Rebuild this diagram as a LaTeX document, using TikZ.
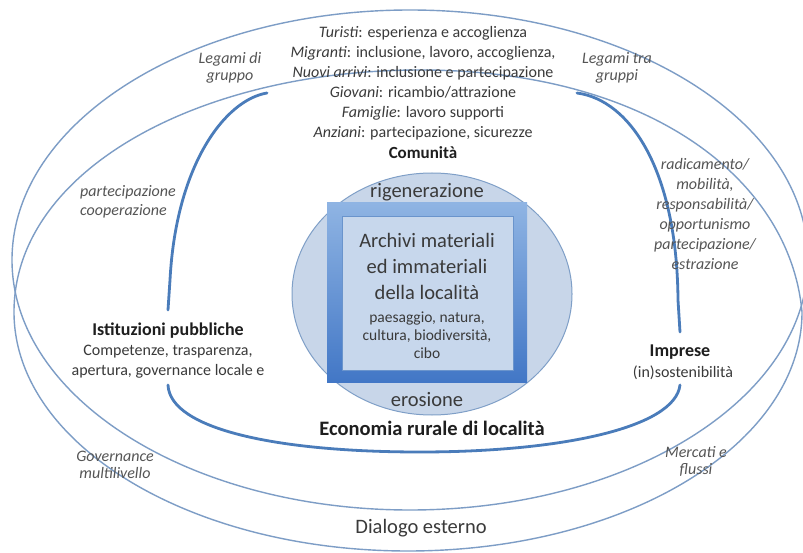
\documentclass[tikz,border=0pt]{standalone}
\usepackage{fontspec}
\setmainfont{Carlito}
\definecolor{ringc}{HTML}{7D9DC6}
\definecolor{arcc}{HTML}{4A7CBA}
\definecolor{ellfill}{HTML}{C8D6E9}
\definecolor{elldraw}{HTML}{7F9FC7}
\definecolor{frametop}{HTML}{8FB4E3}
\definecolor{framebot}{HTML}{4277C6}
\definecolor{panelfill}{HTML}{C7D7EC}
\definecolor{paneldraw}{HTML}{6A94CC}
\definecolor{txtc}{HTML}{3A3A3A}
\definecolor{labc}{HTML}{555555}
\definecolor{headc}{HTML}{1E1E1E}
\begin{document}
\begin{tikzpicture}[x=1pt,y=-1pt,
  thinring/.style={draw=ringc, line width=1.4pt},
  thickarc/.style={draw=arcc, line width=2.8pt, line cap=round},
  sidelab/.style={inner sep=0pt, align=center, text=labc, font=\fontsize{16}{17}\selectfont\itshape},
  bodytxt/.style={inner sep=0pt, align=center, text=txtc, font=\fontsize{16}{20}\selectfont},
  headtxt/.style={inner sep=0pt, align=center, text=headc, font=\fontsize{18}{20}\selectfont\bfseries},
  bigtxt/.style={inner sep=0pt, align=center, text=txtc, font=\fontsize{20.5}{25}\selectfont}]
\fill[white] (0,0) rectangle (803,553);
\useasboundingbox (0,0) rectangle (803,553);

% outer rings
\draw[thinring] (410,260) ellipse [x radius=398, y radius=250];
\draw[thinring] (420,70) .. controls (650,70) and (790,180) .. (802,312)
  .. controls (802,444) and (626,551) .. (408,551)
  .. controls (190,551) and (14,444) .. (14,312)
  .. controls (14,170) and (200,70) .. (420,70) -- cycle;

% inner thick arcs (connections)
\coordinate (tl) at (267,93);
\coordinate (tr) at (577,93);
\coordinate (istTop) at (168,310);
\coordinate (istBot) at (168,385);
\coordinate (impTop) at (680,332);
\coordinate (impBot) at (680,385);
\draw[thickarc] (tl) .. controls (225,100) and (176,165) .. (170,280) -- (istTop);
\draw[thickarc] (istBot) .. controls (170,430) and (280,452) .. (420,452)
  .. controls (560,452) and (675,428) .. (impBot);
\draw[thickarc] (tr) .. controls (630,100) and (677,170) .. (678,300) -- (impTop);

% core
\draw[fill=ellfill, draw=elldraw, line width=1pt] (432,294) ellipse [x radius=140, y radius=121];
\shade[top color=frametop, bottom color=framebot] (327,203) rectangle (527,382);
\draw[fill=panelfill, draw=paneldraw, line width=1pt] (342,217) rectangle (513,370);

\node[bigtxt] (rig) at (427,192) {rigenerazione};
\node[bigtxt] (ero) at (427,400) {erosione};
\node[inner sep=0pt, align=center, text=txtc, font=\fontsize{20.5}{26}\selectfont] (arch) at (427,266)
  {Archivi materiali\\ed immateriali\\della località};
\node[inner sep=0pt, align=center, text=txtc, font=\fontsize{15.5}{18}\selectfont] (archsub) at (427,335)
  {paesaggio, natura,\\cultura, biodiversità,\\cibo};

% community
\node[bodytxt] (comm) at (423,83) {\textit{Turisti}: esperienza e accoglienza\\
  \textit{Migranti}: inclusione, lavoro, accoglienza,\\
  \textit{Nuovi arrivi}: inclusione e partecipazione\\
  \textit{Giovani}: ricambio/attrazione\\
  \textit{Famiglie}: lavoro supporti\\
  \textit{Anziani}: partecipazione, sicurezze};
\node[headtxt, font=\fontsize{17}{20}\selectfont\bfseries] (comt) at (423,153) {Comunità};

% institutions / firms
\node[headtxt] (ist) at (168,331) {Istituzioni pubbliche};
\node[bodytxt] (istsub) at (168,362) {Competenze, trasparenza,\\apertura, governance locale e};
\node[headtxt] (imp) at (680,352) {Imprese};
\node[bodytxt] (impsub) at (683,373) {(in)sostenibilità};

\node[headtxt, font=\fontsize{20.5}{24}\selectfont\bfseries] (eco) at (432,428) {Economia rurale di località};
\node[bigtxt] (dial) at (421,528) {Dialogo esterno};

% side labels
\node[sidelab] (legL) at (230,68) {Legami di\\gruppo};
\node[sidelab] (legR) at (617,68) {Legami tra\\gruppi};
\node[sidelab, align=left, anchor=west, font=\fontsize{16}{19}\selectfont\itshape] (partL) at (80,202) {partecipazione\\cooperazione};
\node[sidelab, font=\fontsize{16}{20}\selectfont\itshape] (radR) at (705,214) {radicamento/\\mobilità,\\responsabilità/\\opportunismo\\partecipazione/\\estrazione};
\node[sidelab] (gov) at (115,465) {Governance\\multilivello};
\node[sidelab] (merc) at (696,461) {Mercati e\\flussi};
\end{tikzpicture}
\end{document}
